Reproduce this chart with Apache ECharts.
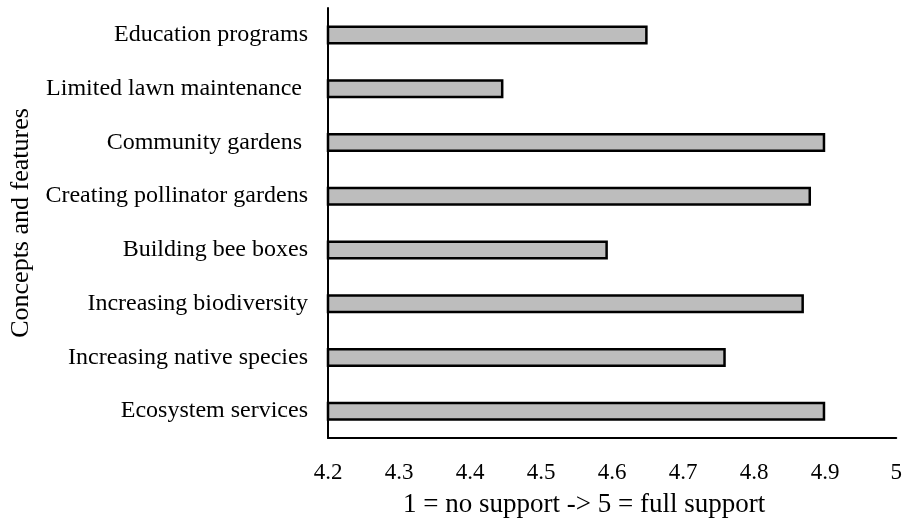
<!DOCTYPE html>
<html>
<head>
<meta charset="utf-8">
<script src="https://cdn.jsdelivr.net/npm/echarts@6/dist/echarts.min.js"></script>
<style>html,body{margin:0;padding:0;background:#fff;}#c{width:905px;height:523px;}</style>
</head>
<body>
<div id="c"></div>
<script>
var categories = ["Education programs", "Limited lawn maintenance ", "Community gardens ", "Creating pollinator gardens", "Building bee boxes", "Increasing biodiversity", "Increasing native species", "Ecosystem services"];
var values = [4.65, 4.447, 4.90, 4.88, 4.594, 4.87, 4.76, 4.90];
var xTicks = [4.2, 4.3, 4.4, 4.5, 4.6, 4.7, 4.8, 4.9, 5];
var xTitle = "1 = no support -> 5 = full support";
var yTitle = "Concepts and features";

var font = "'Liberation Serif', 'Times New Roman', serif";
var chart = echarts.init(document.getElementById('c'), null, {renderer: 'canvas'});
chart.setOption({
  animation: false,
  backgroundColor: '#ffffff',
  grid: {left: 328, right: 7, top: 8, bottom: 81, containLabel: false},
  xAxis: {
    type: 'value',
    min: xTicks[0],
    max: xTicks[xTicks.length - 1],
    interval: 0.1,
    axisLine: {show: true, lineStyle: {color: '#000', width: 2}},
    axisTick: {show: false},
    splitLine: {show: false},
    axisLabel: {
      color: '#000', fontFamily: font, fontSize: 23, margin: 23,
      formatter: function (v) { return String(Math.round(v * 10) / 10); }
    },
    name: xTitle,
    nameLocation: 'middle',
    nameGap: 53,
    nameTextStyle: {color: '#000', fontFamily: font, fontSize: 27, padding: [0, 56, 0, 0]}
  },
  yAxis: {
    type: 'category',
    data: categories,
    inverse: true,
    axisLine: {show: true, lineStyle: {color: '#000', width: 2}},
    axisTick: {show: false},
    axisLabel: {color: '#000', fontFamily: font, fontSize: 24, margin: 20},
    name: yTitle,
    nameLocation: 'middle',
    nameGap: 290,
    nameRotate: 90,
    nameTextStyle: {color: '#000', fontFamily: font, fontSize: 26}
  },
  series: [{
    type: 'bar',
    data: values,
    barWidth: 19,
    itemStyle: {color: '#bdbdbd', borderColor: '#000', borderWidth: 2.5}
  }]
});
</script>
</body>
</html>
